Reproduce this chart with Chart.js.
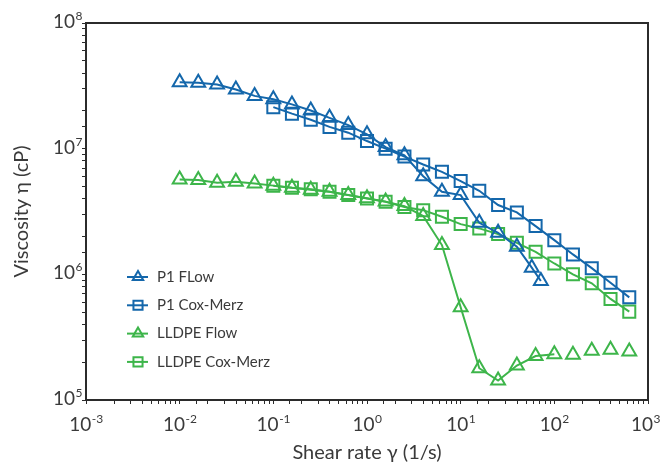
<!DOCTYPE html>
<html>
<head>
<meta charset="utf-8">
<script src="https://cdn.jsdelivr.net/npm/chart.js@4.4.1/dist/chart.umd.min.js"></script>
<style>
  html, body { margin: 0; background: #fff; }
  #wrap { width: 661px; height: 465px; }
</style>
</head>
<body>
<div id="wrap"><canvas id="c"></canvas></div>
<script>
// shear rates (1/s), 5 points per decade
const rates = [0.01, 0.0158, 0.0251, 0.0398, 0.0631, 0.1, 0.158, 0.251, 0.398, 0.631,
  1, 1.58, 2.51, 3.98, 6.31, 10, 15.8, 25.1, 39.8, 63.1, 100, 158, 251, 398, 631];
const p1FlowRates = [0.01, 0.0158, 0.0251, 0.0398, 0.0631, 0.1, 0.158, 0.251, 0.398, 0.631,
  1, 1.58, 2.51, 3.98, 6.31, 10, 15.8, 25.1, 39.8, 57.4, 71.8];
const coxMerzRates = rates.slice(5);

const p1Flow = [3.38e7, 3.35e7, 3.24e7, 2.96e7, 2.63e7, 2.47e7, 2.25e7, 2.01e7, 1.76e7, 1.54e7,
  1.30e7, 1.03e7, 8.85e6, 6.04e6, 4.54e6, 4.27e6, 2.57e6, 2.14e6, 1.66e6, 1.13e6, 8.85e5];
const p1CoxMerz = [2.14e7, 1.90e7, 1.70e7, 1.49e7, 1.34e7, 1.15e7, 1.0e7, 8.65e6, 7.48e6, 6.54e6,
  5.52e6, 4.62e6, 3.56e6, 3.11e6, 2.42e6, 1.87e6, 1.44e6, 1.12e6, 8.57e5, 6.56e5];
const lldpeFlow = [5.68e6, 5.62e6, 5.35e6, 5.45e6, 5.29e6, 5.08e6, 4.88e6, 4.72e6, 4.55e6, 4.28e6,
  4.03e6, 3.79e6, 3.49e6, 2.91e6, 1.71e6, 5.47e5, 1.79e5, 1.43e5, 1.88e5, 2.24e5,
  2.31e5, 2.29e5, 2.47e5, 2.51e5, 2.43e5];
const lldpeCoxMerz = [5.06e6, 4.88e6, 4.76e6, 4.54e6, 4.27e6, 4.02e6, 3.78e6, 3.44e6, 3.24e6, 2.87e6,
  2.51e6, 2.32e6, 2.09e6, 1.78e6, 1.51e6, 1.22e6, 1.0e6, 8.48e5, 6.37e5, 5.05e5];

const seriesNames = ['P1 FLow', 'P1 Cox-Merz', 'LLDPE Flow', 'LLDPE Cox-Merz'];
const xExponents = [-3, -2, -1, 0, 1, 2, 3];
const yExponents = [5, 6, 7, 8];

const BLUE = '#1467ab';
const GREEN = '#3db54a';
const TEXT = '#3a3a3a';
const FONT = 'Lato, "Noto Sans", sans-serif';

function pts(xs, ys) {
  return ys.map((v, i) => ({ x: xs[i], y: v }));
}

function drawPow(ctx, x, y, e, align) {
  ctx.font = '19px ' + FONT;
  const bw = ctx.measureText('10').width;
  ctx.font = '12px ' + FONT;
  const ew = ctx.measureText(String(e)).width;
  let x0 = align === 'center' ? x - (bw + ew) / 2 : x - bw - ew;
  x0 = Math.min(x0, ctx.canvas.width - bw - ew - 1);
  ctx.textAlign = 'left';
  ctx.textBaseline = 'middle';
  ctx.font = '19px ' + FONT;
  ctx.fillText('10', x0, y);
  ctx.font = '12px ' + FONT;
  ctx.fillText(String(e), x0 + bw + 0.5, y - 6);
}

function marker(ctx, style, x, y, r) {
  ctx.beginPath();
  if (style === 'triangle') {
    ctx.moveTo(x, y - r);
    ctx.lineTo(x + r * 0.866, y + r / 2);
    ctx.lineTo(x - r * 0.866, y + r / 2);
    ctx.closePath();
  } else {
    ctx.rect(x - r * 0.7, y - r * 0.7, r * 1.4, r * 1.4);
  }
  ctx.stroke();
}

const decor = {
  id: 'decor',
  afterDraw(chart) {
    const ctx = chart.ctx;
    const a = chart.chartArea;
    ctx.save();
    // box top and right
    ctx.strokeStyle = '#2b2b2b';
    ctx.lineWidth = 2;
    ctx.beginPath();
    ctx.moveTo(a.left, a.top);
    ctx.lineTo(a.right, a.top);
    ctx.lineTo(a.right, a.bottom);
    ctx.stroke();

    // tick labels
    ctx.fillStyle = TEXT;
    xExponents.forEach(e => {
      const px = chart.scales.x.getPixelForValue(Math.pow(10, e));
      drawPow(ctx, px, a.bottom + 25, e, 'center');
    });
    yExponents.forEach(e => {
      const py = chart.scales.y.getPixelForValue(Math.pow(10, e));
      drawPow(ctx, a.left - 4, py - 1, e, 'right');
    });

    // legend inside plot
    chart.data.datasets.forEach((ds, i) => {
      const y = a.top + 254 + i * 28.3;
      const x = a.left + 41;
      ctx.strokeStyle = ds.borderColor;
      ctx.lineWidth = 2;
      ctx.beginPath();
      ctx.moveTo(x, y);
      ctx.lineTo(x + 21, y);
      ctx.stroke();
      marker(ctx, ds.pointStyle, x + 11, y, ds.pointStyle === 'triangle' ? 6 : 6.5);
      ctx.fillStyle = TEXT;
      ctx.font = '15px ' + FONT;
      ctx.textAlign = 'left';
      ctx.textBaseline = 'middle';
      ctx.fillText(ds.label, x + 30, y);
    });
    ctx.restore();
  }
};

new Chart(document.getElementById('c'), {
  type: 'line',
  data: {
    datasets: [
      {
        label: seriesNames[0], data: pts(p1FlowRates, p1Flow),
        borderColor: BLUE, pointStyle: 'triangle', pointRadius: 8
      },
      {
        label: seriesNames[1], data: pts(coxMerzRates, p1CoxMerz),
        borderColor: BLUE, pointStyle: 'rect', pointRadius: 8.5
      },
      {
        label: seriesNames[2], data: pts(rates, lldpeFlow),
        borderColor: GREEN, pointStyle: 'triangle', pointRadius: 8,
        segment: { borderColor: c => c.p0DataIndex >= 20 ? 'rgba(0,0,0,0)' : undefined }
      },
      {
        label: seriesNames[3], data: pts(coxMerzRates, lldpeCoxMerz),
        borderColor: GREEN, pointStyle: 'rect', pointRadius: 8.5
      }
    ].map(d => Object.assign({
      borderWidth: 2, pointBorderWidth: 2, pointBackgroundColor: 'rgba(255,255,255,0)',
      pointBorderColor: d.borderColor, tension: 0, fill: false
    }, d))
  },
  options: {
    responsive: true,
    maintainAspectRatio: false,
    animation: false,
    devicePixelRatio: 1,
    layout: { padding: { top: 23, right: 13, left: 0, bottom: 0 } },
    plugins: { legend: { display: false }, tooltip: { enabled: false } },
    scales: {
      x: {
        type: 'logarithmic', min: 1e-3, max: 1e3, position: 'bottom',
        grid: { drawOnChartArea: false, drawTicks: true, tickLength: 4, color: '#2b2b2b' },
        border: { display: true, color: '#2b2b2b', width: 2 },
        ticks: { autoSkip: false, maxRotation: 0, callback: () => '' },
        title: {
          display: true, text: 'Shear rate γ (1/s)', color: TEXT,
          font: { family: FONT, size: 20 }, padding: { top: 0, bottom: 0 }
        },
        afterFit: s => { s.height = 65; }
      },
      y: {
        type: 'logarithmic', min: 1e5, max: 1e8,
        grid: { drawOnChartArea: false, drawTicks: true, tickLength: 4, color: '#2b2b2b' },
        border: { display: true, color: '#2b2b2b', width: 2 },
        ticks: { autoSkip: false, callback: () => '' },
        title: {
          display: true, text: 'Viscosity η (cP)', color: TEXT,
          font: { family: FONT, size: 20 }, padding: { top: 10, bottom: 0 }
        },
        afterFit: s => { s.width = 86; }
      }
    }
  },
  plugins: [decor]
});
</script>
</body>
</html>
